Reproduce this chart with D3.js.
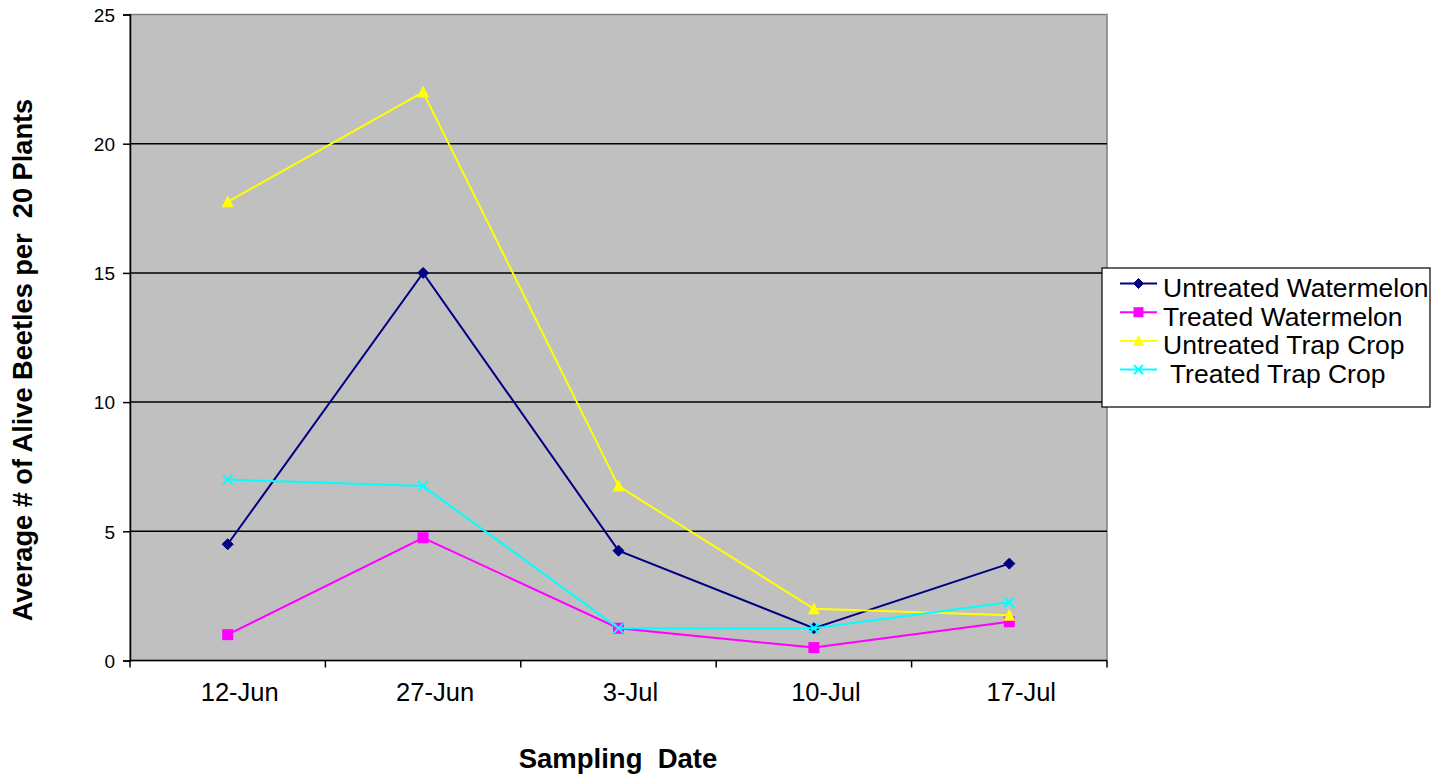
<!DOCTYPE html>
<html>
<head>
<meta charset="utf-8">
<script src="https://cdn.jsdelivr.net/npm/d3@7"></script>
<style>
  html, body { margin: 0; padding: 0; background: #fff; }
  svg text { font-family: Arial, "Liberation Sans", sans-serif; white-space: pre; }
</style>
</head>
<body>
<svg id="chart" width="1445" height="777"></svg>
<script>
// Sampling dates (categories)
const dates = ["12-Jun", "27-Jun", "3-Jul", "10-Jul", "17-Jul"];

// Average number of alive beetles per 20 plants, per series
const untreatedWatermelon = [4.5, 15, 4.25, 1.25, 3.75];
const treatedWatermelon   = [1, 4.75, 1.25, 0.5, 1.5];
const untreatedTrapCrop   = [17.75, 22, 6.75, 2, 1.75];
const treatedTrapCrop     = [7, 6.75, 1.25, 1.25, 2.25];

const seriesNames = ["Untreated Watermelon", "Treated Watermelon", "Untreated Trap Crop", " Treated Trap Crop"];
const yTicks = [0, 5, 10, 15, 20, 25];

const series = [
  { name: seriesNames[0], values: untreatedWatermelon, color: "#000080", marker: "diamond" },
  { name: seriesNames[1], values: treatedWatermelon,   color: "#FF00FF", marker: "square" },
  { name: seriesNames[2], values: untreatedTrapCrop,   color: "#FFFF00", marker: "triangle" },
  { name: seriesNames[3], values: treatedTrapCrop,     color: "#00FFFF", marker: "cross" }
];

const svg = d3.select("#chart");
const plot = { left: 130, right: 1107, top: 14.5, bottom: 660.5 };

const x = d3.scaleBand().domain(dates).range([plot.left, plot.right]).padding(0);
const y = d3.scaleLinear().domain([0, 25]).range([plot.bottom, plot.top]);

// plot background
svg.append("rect")
  .attr("x", plot.left).attr("y", plot.top)
  .attr("width", plot.right - plot.left).attr("height", plot.bottom - plot.top)
  .attr("fill", "#C0C0C0").attr("stroke", "#808080").attr("stroke-width", 1.5);

// horizontal gridlines
svg.append("g").selectAll("line")
  .data(yTicks.filter(d => d > 0 && d < 25))
  .join("line")
  .attr("x1", plot.left).attr("x2", plot.right)
  .attr("y1", d => y(d)).attr("y2", d => y(d))
  .attr("stroke", "#000").attr("stroke-width", 1.5);

// y axis
const yAxis = svg.append("g")
  .attr("transform", `translate(${plot.left},0)`)
  .call(d3.axisLeft(y).tickValues(yTicks).tickSize(7).tickPadding(8).tickFormat(d3.format("d")));
yAxis.select(".domain").attr("stroke", "#000").attr("stroke-width", 1.5);
yAxis.selectAll(".tick line").attr("stroke", "#000").attr("stroke-width", 1.5);
yAxis.selectAll(".tick text")
  .attr("font-size", 19).attr("fill", "#000").attr("dy", "0.36em")
  .style("font-family", "Arial, 'Liberation Sans', sans-serif");

// x axis with tick marks at category boundaries
const xAxisG = svg.append("g").attr("transform", `translate(0,${plot.bottom})`);
xAxisG.append("line")
  .attr("x1", plot.left).attr("x2", plot.right)
  .attr("stroke", "#000").attr("stroke-width", 1.5);
const boundaries = dates.map(d => x(d)).concat([x(dates[dates.length - 1]) + x.bandwidth()]);
xAxisG.selectAll("line.tk").data(boundaries).join("line")
  .attr("class", "tk")
  .attr("x1", d => d).attr("x2", d => d)
  .attr("y1", 0).attr("y2", 7)
  .attr("stroke", "#000").attr("stroke-width", 1.5);
xAxisG.selectAll("text").data(dates).join("text")
  .attr("x", d => x(d) + x.bandwidth() / 2 + 12)
  .attr("y", 40.5)
  .attr("text-anchor", "middle")
  .attr("font-size", 25.5)
  .attr("fill", "#000")
  .text(d => d);

// axis titles
svg.append("text")
  .attr("x", 618).attr("y", 768)
  .attr("text-anchor", "middle")
  .attr("font-size", 27.5).attr("font-weight", "bold")
  .text("Sampling  Date");

svg.append("text")
  .attr("transform", `translate(32,360) rotate(-90)`)
  .attr("text-anchor", "middle")
  .attr("font-size", 27.2).attr("font-weight", "bold")
  .text("Average # of Alive Beetles per  20 Plants");

// marker drawing
function drawMarker(g, type, color, cx, cy, s) {
  if (type === "diamond") {
    g.append("path")
      .attr("d", `M${cx},${cy - s}L${cx + s},${cy}L${cx},${cy + s}L${cx - s},${cy}Z`)
      .attr("fill", color).attr("stroke", color);
  } else if (type === "square") {
    g.append("rect")
      .attr("x", cx - s).attr("y", cy - s).attr("width", 2 * s).attr("height", 2 * s)
      .attr("fill", color);
  } else if (type === "triangle") {
    g.append("path")
      .attr("d", `M${cx},${cy - s - 1}L${cx + s + 0.5},${cy + s}L${cx - s - 0.5},${cy + s}Z`)
      .attr("fill", color);
  } else if (type === "cross") {
    g.append("path")
      .attr("d", `M${cx - s},${cy - s}L${cx + s},${cy + s}M${cx - s},${cy + s}L${cx + s},${cy - s}`)
      .attr("stroke", color).attr("stroke-width", 2).attr("fill", "none");
  }
}

const markerSize = { diamond: 5.5, square: 5.5, triangle: 5.5, cross: 5 };

const line = d3.line()
  .x((d, i) => x(dates[i]) + x.bandwidth() / 2)
  .y(d => y(d));

// series lines and markers
series.forEach(s => {
  const g = svg.append("g");
  g.append("path")
    .datum(s.values)
    .attr("d", line)
    .attr("fill", "none")
    .attr("stroke", s.color)
    .attr("stroke-width", 2);
  s.values.forEach((v, i) => {
    drawMarker(g, s.marker, s.color, x(dates[i]) + x.bandwidth() / 2, y(v), markerSize[s.marker]);
  });
});

// legend
const legend = svg.append("g");
legend.append("rect")
  .attr("x", 1102).attr("y", 268).attr("width", 328).attr("height", 139)
  .attr("fill", "#fff").attr("stroke", "#000").attr("stroke-width", 1.2);
series.forEach((s, i) => {
  const cy = 283.5 + i * 28.7;
  legend.append("line")
    .attr("x1", 1120).attr("x2", 1157).attr("y1", cy).attr("y2", cy)
    .attr("stroke", s.color).attr("stroke-width", 2);
  drawMarker(legend, s.marker, s.color, 1138.5, cy, markerSize[s.marker] - 0.5);
  legend.append("text")
    .attr("x", 1163).attr("y", cy + 13.3)
    .attr("font-size", 26.5)
    .attr("fill", "#000")
    .text(s.name);
});
</script>
</body>
</html>
